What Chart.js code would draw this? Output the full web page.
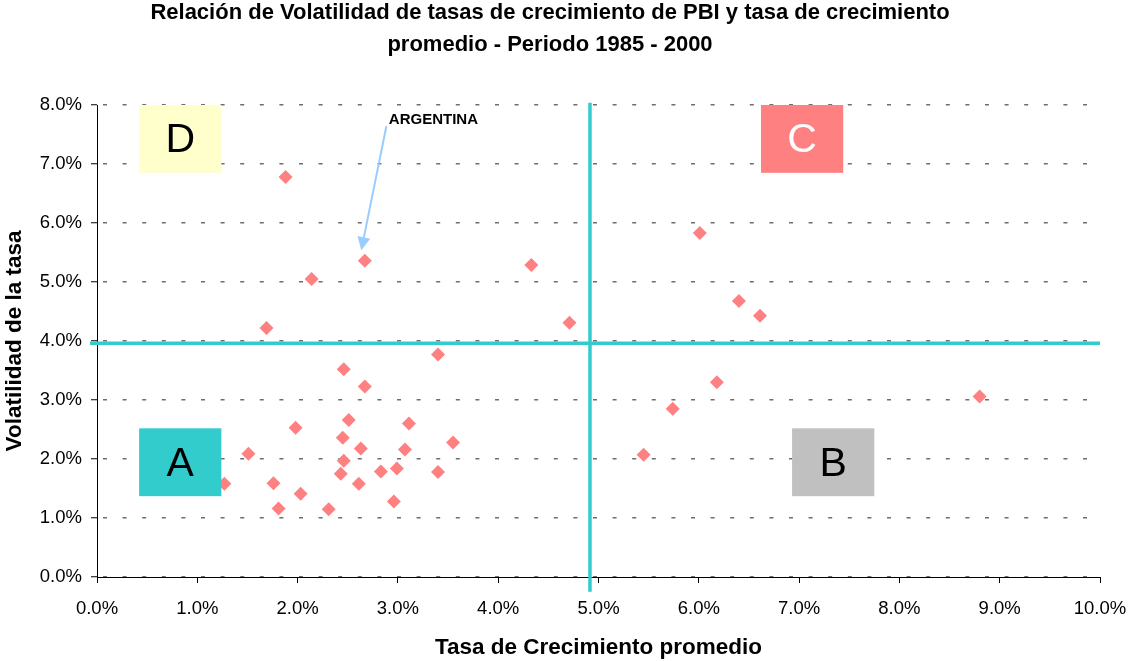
<!DOCTYPE html>
<html>
<head>
<meta charset="utf-8">
<script src="https://cdn.jsdelivr.net/npm/chart.js@4/dist/chart.umd.min.js"></script>
<style>
    html, body { margin: 0; padding: 0; background: #fff; }
    #wrap { width: 1128px; height: 661px; position: relative; }
</style>
</head>
<body>
<div id="wrap"><canvas id="chart"></canvas></div>
<script>
// Tasa de crecimiento promedio (%) y volatilidad (%) por país, 1985 - 2000
const crecimiento = [1.88, 2.67, 2.14, 1.69, 4.33, 4.71, 6.01, 6.40, 6.61, 6.18, 5.74, 5.45, 8.80,
    1.51, 1.27, 1.76, 1.81, 3.40, 2.46, 2.67, 1.98, 2.51, 3.11, 2.45, 2.63, 3.07, 3.55,
    2.46, 2.43, 2.83, 2.99, 3.40, 2.61, 2.03, 2.31, 2.96];
const volatilidad = [6.78, 5.36, 5.05, 4.22, 5.29, 4.31, 5.83, 4.68, 4.43, 3.30, 2.85, 2.07, 3.06,
    2.09, 1.58, 1.59, 1.16, 3.77, 3.52, 3.23, 2.53, 2.66, 2.60, 2.36, 2.18, 2.16, 2.28,
    1.97, 1.75, 1.79, 1.84, 1.78, 1.58, 1.41, 1.15, 1.28];

// líneas divisorias de los cuadrantes (promedios)
const corteX = 4.915;
const corteY = 3.96;

// cuadrantes: letra, x0, x1, y0, y1, fondo, color del texto
const cuadrantes = [
    ['D', 0.42, 1.24, 6.85, 8.0, '#FFFFCC', '#000'],
    ['C', 6.62, 7.44, 6.85, 8.0, '#FF8080', '#fff'],
    ['A', 0.42, 1.24, 1.37, 2.52, '#33CCCC', '#000'],
    ['B', 6.93, 7.75, 1.37, 2.52, '#C0C0C0', '#000']
];

// etiqueta de Argentina y su flecha
const etiqueta = { texto: 'ARGENTINA', x: 2.91, y: 7.75 };
const flecha = { x0: 2.885, y0: 7.64, x1: 2.635, y1: 5.54 };

const puntos = crecimiento.map((x, i) => ({ x: x, y: volatilidad[i] }));

const fuente = '"Liberation Sans", Arial, sans-serif';

// Eje vertical continuo (las líneas de la grilla son punteadas)
const ejePlugin = {
    id: 'ejeY',
    beforeDatasetsDraw(chart) {
        const ctx = chart.ctx;
        const area = chart.chartArea;
        ctx.save();
        ctx.strokeStyle = '#000';
        ctx.lineWidth = 1;
        ctx.beginPath();
        ctx.moveTo(Math.round(area.left) + 0.5, area.top);
        ctx.lineTo(Math.round(area.left) + 0.5, area.bottom);
        ctx.stroke();
        ctx.restore();
    }
};

// Dibuja los recuadros A, B, C, D y la etiqueta de Argentina
const cuadrantesPlugin = {
    id: 'cuadrantes',
    afterDatasetsDraw(chart) {
        const ctx = chart.ctx;
        const sx = chart.scales.x;
        const sy = chart.scales.y;
        ctx.save();
        cuadrantes.forEach(q => {
            const left = sx.getPixelForValue(q[1]);
            const right = sx.getPixelForValue(q[2]);
            const top = sy.getPixelForValue(q[4]);
            const bottom = sy.getPixelForValue(q[3]);
            ctx.fillStyle = q[5];
            ctx.fillRect(left, top, right - left, bottom - top);
            ctx.fillStyle = q[6];
            ctx.font = '41px ' + fuente;
            ctx.textAlign = 'center';
            ctx.textBaseline = 'middle';
            ctx.fillText(q[0], (left + right) / 2, (top + bottom) / 2 + 2);
        });

        // flecha
        const ax = sx.getPixelForValue(flecha.x0);
        const ay = sy.getPixelForValue(flecha.y0);
        const bx = sx.getPixelForValue(flecha.x1);
        const by = sy.getPixelForValue(flecha.y1);
        const ang = Math.atan2(by - ay, bx - ax);
        const largo = 13;
        const ancho = 6.5;
        const hx = bx - largo * Math.cos(ang);
        const hy = by - largo * Math.sin(ang);
        ctx.strokeStyle = '#99CCFF';
        ctx.fillStyle = '#99CCFF';
        ctx.lineWidth = 2;
        ctx.beginPath();
        ctx.moveTo(ax, ay);
        ctx.lineTo(hx, hy);
        ctx.stroke();
        ctx.beginPath();
        ctx.moveTo(bx, by);
        ctx.lineTo(hx + ancho * Math.sin(ang), hy - ancho * Math.cos(ang));
        ctx.lineTo(hx - ancho * Math.sin(ang), hy + ancho * Math.cos(ang));
        ctx.closePath();
        ctx.fill();

        ctx.fillStyle = '#000';
        ctx.font = 'bold 15px ' + fuente;
        ctx.textAlign = 'left';
        ctx.textBaseline = 'middle';
        ctx.fillText(etiqueta.texto, sx.getPixelForValue(etiqueta.x), sy.getPixelForValue(etiqueta.y));
        ctx.restore();
    }
};

new Chart(document.getElementById('chart'), {
    type: 'scatter',
    data: {
        datasets: [
            {
                type: 'line',
                data: [{ x: -0.07, y: corteY }, { x: 10, y: corteY }],
                borderColor: '#33CCCC',
                borderWidth: 3.5,
                pointRadius: 0,
                clip: false,
                order: 2
            },
            {
                type: 'line',
                data: [{ x: corteX, y: 8.04 }, { x: corteX, y: -0.25 }],
                borderColor: '#33CCCC',
                borderWidth: 3.5,
                pointRadius: 0,
                clip: false,
                order: 2
            },
            {
                label: 'Países',
                data: puntos,
                pointStyle: 'rectRot',
                pointRadius: 7,
                pointHoverRadius: 7,
                pointBackgroundColor: '#FF8080',
                pointBorderColor: '#FF8080',
                pointBorderWidth: 0,
                order: 1
            }
        ]
    },
    options: {
        responsive: true,
        maintainAspectRatio: false,
        animation: false,
        events: [],
        layout: { padding: { left: 0, right: 28, top: 0, bottom: 0 } },
        plugins: {
            legend: { display: false },
            tooltip: { enabled: false },
            title: {
                display: true,
                text: ['Relación de Volatilidad de tasas de crecimiento de PBI y tasa de crecimiento',
                    'promedio - Periodo 1985 - 2000'],
                color: '#000',
                font: { family: fuente, size: 22, weight: 'bold', lineHeight: '32px' },
                padding: { top: -3, bottom: 44 }
            }
        },
        scales: {
            x: {
                type: 'linear',
                min: 0,
                max: 10,
                afterFit(scale) {
                    scale.height = 84;
                    scale.paddingLeft = 0;
                    scale.paddingRight = 0;
                },
                ticks: {
                    stepSize: 1,
                    color: '#000',
                    padding: 15,
                    font: { family: fuente, size: 18.5 },
                    callback: v => v.toFixed(1) + '%'
                },
                grid: {
                    drawOnChartArea: false,
                    drawTicks: true,
                    tickLength: 6,
                    tickColor: '#000',
                    tickWidth: 1
                },
                border: { display: true, color: '#000', width: 1 },
                title: {
                    display: true,
                    text: 'Tasa de Crecimiento promedio',
                    color: '#000',
                    font: { family: fuente, size: 22.5, weight: 'bold' },
                    padding: { top: 0, bottom: 0 }
                }
            },
            y: {
                type: 'linear',
                min: 0,
                max: 8,
                afterFit(scale) { scale.width = 97; },
                ticks: {
                    stepSize: 1,
                    color: '#000',
                    padding: 9,
                    font: { family: fuente, size: 18.5 },
                    callback: v => v.toFixed(1) + '%'
                },
                grid: {
                    color: '#6e6e6e',
                    lineWidth: 1.5,
                    tickLength: 6,
                    tickColor: '#000',
                    tickWidth: 1,
                    tickBorderDash: []
                },
                border: { display: false, dash: [4, 15.6], dashOffset: -6 },
                title: {
                    display: true,
                    text: 'Volatilidad de la tasa',
                    color: '#000',
                    font: { family: fuente, size: 22.5, weight: 'bold' },
                    padding: { top: 1, bottom: 0 }
                }
            }
        }
    },
    plugins: [ejePlugin, cuadrantesPlugin]
});
</script>
</body>
</html>
